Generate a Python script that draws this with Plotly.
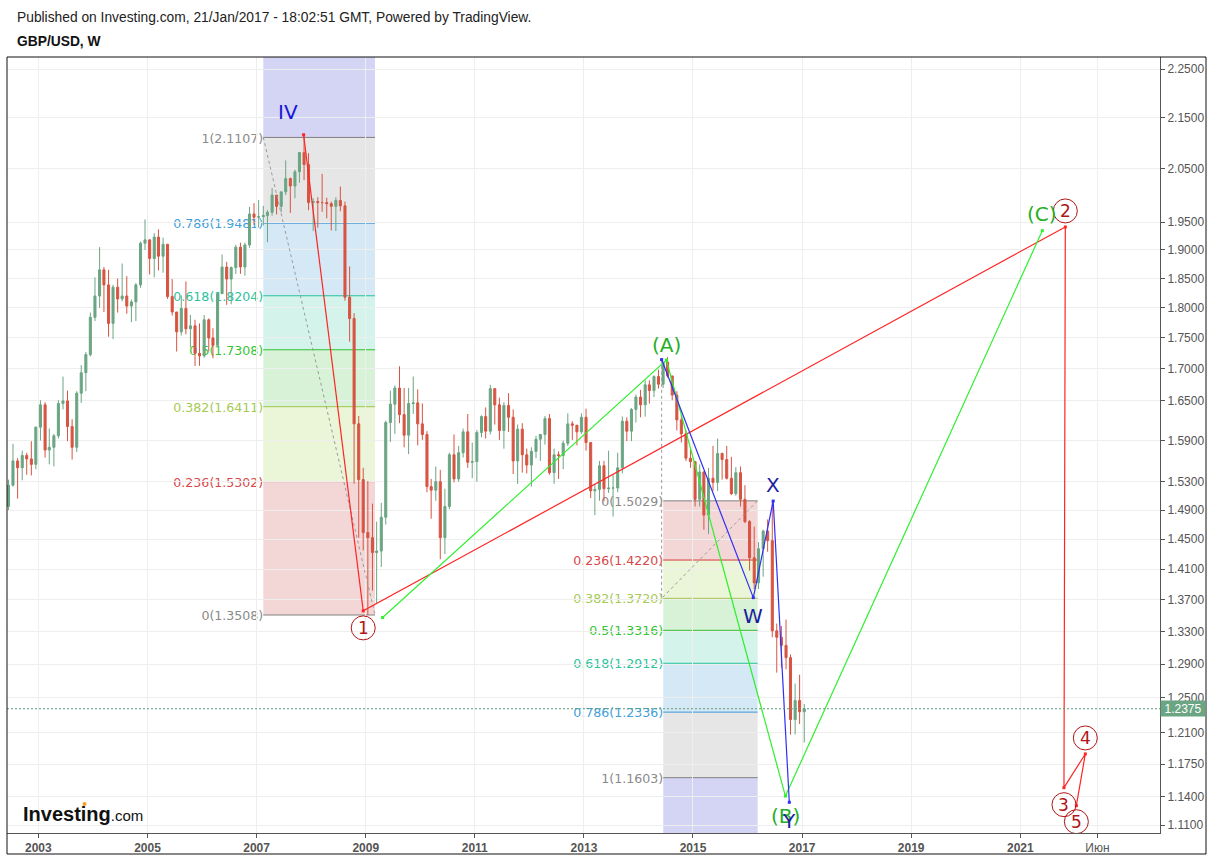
import math
import pandas as pd
import plotly.graph_objects as go

# ---------------- monthly GBP/USD candles ----------------
closes = [
    1.5250, 1.5600, 1.5500, 1.5680, 1.5630, 1.5550, 1.6100,
    1.6440, 1.5760, 1.5800, 1.5970, 1.6460, 1.6500, 1.6110, 1.5800, 1.6620, 1.6940, 1.7230, 1.7840,
    1.8200, 1.8650, 1.8390, 1.7740, 1.8350, 1.8150, 1.8200, 1.8030, 1.8100, 1.8390, 1.9120, 1.9180,
    1.8850, 1.9230, 1.8890, 1.9100, 1.8190, 1.7930, 1.7600, 1.7990, 1.7650, 1.7700, 1.7250, 1.7210,
    1.7800, 1.7500, 1.7380, 1.8240, 1.8700, 1.8490, 1.8690, 1.9050, 1.8700, 1.9090, 1.9650, 1.9590,
    1.9600, 1.9620, 1.9680, 2.0000, 1.9790, 2.0060, 2.0310, 2.0170, 2.0440, 2.0810, 2.0580, 1.9860,
    1.9880, 1.9860, 1.9860, 1.9840, 1.9790, 1.9900, 1.9800, 1.8180, 1.7820, 1.6150, 1.5330, 1.4590,
    1.4520, 1.4320, 1.4340, 1.4800, 1.6170, 1.6450, 1.6700, 1.6290, 1.5980, 1.6460, 1.6470, 1.6150,
    1.5990, 1.5230, 1.5180, 1.5300, 1.4520, 1.4950, 1.5690, 1.5340, 1.5720, 1.6030, 1.5580, 1.5590,
    1.6020, 1.6260, 1.6040, 1.6690, 1.6440, 1.6050, 1.6430, 1.6250, 1.5600, 1.6070, 1.5690, 1.5540,
    1.5740, 1.5920, 1.5990, 1.6230, 1.5430, 1.5690, 1.5680, 1.5860, 1.6150, 1.6130, 1.6030, 1.6250,
    1.5870, 1.5170, 1.5190, 1.5530, 1.5200, 1.5210, 1.5210, 1.5500, 1.6190, 1.6040, 1.6370, 1.6560,
    1.6440, 1.6750, 1.6660, 1.6880, 1.6760, 1.7110, 1.6890, 1.6590, 1.6210, 1.6000, 1.5640, 1.5590,
    1.5050, 1.5440, 1.4830, 1.5350, 1.5290, 1.5710, 1.5620, 1.5350, 1.5130, 1.5430, 1.5050, 1.4740,
    1.4250, 1.3920, 1.4370, 1.4610, 1.4480, 1.3310, 1.3230, 1.3130, 1.2980, 1.2250, 1.2470, 1.2340,
    1.2375,
]
highs = [
    1.5330, 1.5850, 1.5640, 1.5750, 1.5720, 1.5890, 1.6110,
    1.6510, 1.6480, 1.6080, 1.6000, 1.6510, 1.6880, 1.6660, 1.6220, 1.6650, 1.7060, 1.7270, 1.7920,
    1.8520, 1.9050, 1.8700, 1.8650, 1.8390, 1.8500, 1.8760, 1.8540, 1.8140, 1.8420, 1.9150, 1.9550,
    1.9190, 1.9300, 1.9370, 1.9220, 1.9110, 1.8490, 1.7930, 1.8210, 1.8450, 1.7880, 1.7800, 1.7740,
    1.7880, 1.7820, 1.7660, 1.8250, 1.8920, 1.8790, 1.8710, 1.9090, 1.9130, 1.9130, 1.9780, 1.9850,
    1.9910, 1.9800, 1.9720, 2.0130, 2.0000, 2.0060, 2.0660, 2.0330, 2.0480, 2.0820, 2.1160, 2.0800,
    1.9940, 1.9960, 2.0400, 1.9950, 1.9880, 1.9960, 2.0160, 1.9880, 1.8710, 1.7910, 1.6270, 1.5500,
    1.5310, 1.4990, 1.4740, 1.5000, 1.6200, 1.6660, 1.6740, 1.7043, 1.6700, 1.6700, 1.6880, 1.6680,
    1.6460, 1.6040, 1.5340, 1.5520, 1.5470, 1.5200, 1.5720, 1.5990, 1.5820, 1.6080, 1.6300, 1.5870,
    1.6060, 1.6280, 1.6400, 1.6750, 1.6700, 1.6550, 1.6480, 1.6620, 1.6370, 1.6140, 1.6160, 1.5780,
    1.5800, 1.5970, 1.6000, 1.6270, 1.6300, 1.5780, 1.5740, 1.5900, 1.6310, 1.6190, 1.6130, 1.6310,
    1.6380, 1.5880, 1.5270, 1.5600, 1.5600, 1.5750, 1.5400, 1.5720, 1.6260, 1.6250, 1.6390, 1.6600,
    1.6670, 1.6820, 1.6820, 1.6900, 1.6990, 1.7110, 1.7190, 1.6890, 1.6650, 1.6290, 1.6050, 1.5790,
    1.5590, 1.5550, 1.5450, 1.5500, 1.5820, 1.5930, 1.5720, 1.5820, 1.5660, 1.5510, 1.5520, 1.5250,
    1.4760, 1.4670, 1.4460, 1.4630, 1.4770, 1.5020, 1.3400, 1.3370, 1.3450, 1.3020, 1.2670, 1.2775,
    1.2430,
]
lows = [
    1.4900, 1.5230, 1.5060, 1.5320, 1.5400, 1.5390, 1.5480,
    1.5900, 1.5650, 1.5550, 1.5520, 1.5930, 1.6370, 1.5890, 1.5620, 1.5730, 1.6470, 1.6650, 1.7200,
    1.7780, 1.8000, 1.7930, 1.7520, 1.7480, 1.7920, 1.8110, 1.7900, 1.7760, 1.7780, 1.8340, 1.9000,
    1.8570, 1.8520, 1.8640, 1.8600, 1.8150, 1.7870, 1.7280, 1.7540, 1.7560, 1.7350, 1.7046, 1.7050,
    1.7180, 1.7280, 1.7170, 1.7350, 1.8240, 1.8050, 1.8060, 1.8580, 1.8580, 1.8550, 1.9040, 1.9450,
    1.9400, 1.9440, 1.9140, 1.9620, 1.9640, 1.9680, 2.0000, 1.9670, 1.9940, 2.0230, 2.0280, 1.9720,
    1.9340, 1.9400, 1.9690, 1.9570, 1.9350, 1.9340, 1.9700, 1.8120, 1.7440, 1.5270, 1.4520, 1.4350,
    1.3508, 1.3820, 1.3660, 1.4130, 1.4700, 1.5880, 1.6000, 1.6160, 1.5800, 1.5700, 1.6300, 1.5830,
    1.5910, 1.5150, 1.4780, 1.5030, 1.4230, 1.4300, 1.4910, 1.5290, 1.5300, 1.5650, 1.5500, 1.5350,
    1.5300, 1.5950, 1.5930, 1.5990, 1.6140, 1.5910, 1.5780, 1.6030, 1.5410, 1.5270, 1.5430, 1.5420,
    1.5230, 1.5640, 1.5600, 1.5840, 1.5400, 1.5270, 1.5340, 1.5480, 1.5820, 1.5910, 1.5830, 1.6000,
    1.5750, 1.5070, 1.4830, 1.5030, 1.5020, 1.5140, 1.4810, 1.5150, 1.5420, 1.5890, 1.5890, 1.6170,
    1.6250, 1.6260, 1.6460, 1.6560, 1.6690, 1.6700, 1.6860, 1.6510, 1.6050, 1.5870, 1.5600, 1.5500,
    1.4950, 1.4950, 1.4630, 1.4570, 1.5170, 1.5170, 1.5330, 1.5330, 1.5110, 1.5100, 1.4950, 1.4720,
    1.4080, 1.3840, 1.3840, 1.4000, 1.4330, 1.3230, 1.2800, 1.2860, 1.2840, 1.2080, 1.2080, 1.2200,
    1.1990,
]
first_open = 1.4950
months = pd.date_range("2002-06-01", periods=len(closes), freq="MS") + pd.Timedelta(days=14)
opens = [first_open] + closes[:-1]

# ---------------- Fibonacci retracements ----------------
fib_ratio_labels = ["0", "0.236", "0.382", "0.5", "0.618", "0.786", "1"]
fib1_prices = [1.3508, 1.5302, 1.6411, 1.7308, 1.8204, 1.9481, 2.1107]
fib1_x = ["2007-02-15", "2009-03-04"]
fib1_beyond = 3.0
fib2_prices = [1.5029, 1.4220, 1.3720, 1.3316, 1.2912, 1.2336, 1.1603]
fib2_x = ["2014-06-16", "2016-03-09"]
fib2_beyond = 0.9
fib1_trend_dates = ["2007-02-15", "2009-03-04"]
fib1_trend_prices = [2.1107, 1.3508]
fib2_trend_dates = ["2014-06-05", "2014-06-05", "2016-03-09"]
fib2_trend_prices = [1.7146, 1.3720, 1.5029]

fill_colors = {"0.236": "#f3d6d6", "0.382": "#ebf5d7", "0.5": "#d7f2d6", "0.618": "#d4f3ea",
               "0.786": "#d4e9f5", "1": "#e6e6e6", "1.618": "#d4d4f4"}
line_colors = {"0": "#808080", "0.236": "#d63c3c", "0.382": "#9fc54c", "0.5": "#2fbf2f",
               "0.618": "#26c29a", "0.786": "#3d97d6", "1": "#808080"}
text_colors = {"0": "#8a8a8a", "0.236": "#d64848", "0.382": "#a5ca55", "0.5": "#36c436",
               "0.618": "#2cc29c", "0.786": "#43a0dc", "1": "#8a8a8a"}

# ---------------- Elliott wave lines ----------------
red_dates = ["2007-11-12", "2008-12-15", "2021-10-29", "2021-10-20", "2022-03-12", "2022-01-11"]
red_prices = [2.1160, 1.3560, 1.9413, 1.1495, 1.1863, 1.1303]
green_dates = ["2009-04-24", "2014-07-07", "2016-09-11", "2021-05-28"]
green_prices = [1.3476, 1.7143, 1.1405, 1.9346]
blue_dates = ["2014-06-05", "2016-02-09", "2016-06-21", "2016-10-07"]
blue_prices = [1.7150, 1.3729, 1.5026, 1.1339]

current_price = 1.2375

y_ticks = [1.11, 1.14, 1.175, 1.21, 1.25, 1.29, 1.33, 1.37, 1.41, 1.45, 1.49, 1.53, 1.59,
           1.65, 1.70, 1.75, 1.80, 1.85, 1.90, 1.95, 2.05, 2.15, 2.25]
x_tick_dates = ["2003-01-01", "2005-01-01", "2007-01-01", "2009-01-01", "2011-01-01",
                "2013-01-01", "2015-01-01", "2017-01-01", "2019-01-01", "2021-01-01", "2022-06-01"]
x_tick_text = ["2003", "2005", "2007", "2009", "2011", "2013", "2015", "2017", "2019", "2021", "Июн"]

UP, DOWN = "#6ba583", "#d75442"
W, H = 1212, 857
ML, MR, MT, MB = 7, 52, 57, 24
PW, PH = W - ML - MR, H - MT - MB
PX_PER_LN = 1070.0          # vertical pixels per unit of ln(price)
ln_ref = math.log(1.3508)   # price sitting at pixel row 615

fig = go.Figure()
shapes = []


def add_fib(xr, prices, beyond):
    allp = prices + [beyond]
    keys = fib_ratio_labels + ["1.618"]
    for i in range(1, len(allp)):
        shapes.append(dict(type="rect", xref="x", yref="y", x0=xr[0], x1=xr[1],
                           y0=allp[i - 1], y1=allp[i], layer="below",
                           fillcolor=fill_colors[keys[i]], line=dict(width=0)))
    for key, p in zip(fib_ratio_labels, prices):
        shapes.append(dict(type="line", xref="x", yref="y", x0=xr[0], x1=xr[1], y0=p, y1=p,
                           layer="below", line=dict(color=line_colors[key], width=1),
                           label=dict(text=f"{key}({p:.4f})", textposition="start",
                                      xanchor="right", yanchor="middle", padding=4,
                                      font=dict(color=text_colors[key], size=12.6,
                                                family="DejaVu Sans"))))


add_fib(fib1_x, fib1_prices, fib1_beyond)
add_fib(fib2_x, fib2_prices, fib2_beyond)

fig.add_trace(go.Candlestick(
    x=months, open=opens, high=highs, low=lows, close=closes,
    increasing=dict(line=dict(color=UP, width=1), fillcolor=UP),
    decreasing=dict(line=dict(color=DOWN, width=1), fillcolor=DOWN),
    whiskerwidth=0, showlegend=False, hoverinfo="skip"))

for d, p in ((fib1_trend_dates, fib1_trend_prices), (fib2_trend_dates, fib2_trend_prices)):
    fig.add_trace(go.Scatter(x=d, y=p, mode="lines", showlegend=False, hoverinfo="skip",
                             line=dict(color="#9a9a9a", width=1, dash="3px,3px")))

for d, p, c in ((red_dates, red_prices, "#ff2424"), (green_dates, green_prices, "#2ef02e"),
                (blue_dates, blue_prices, "#2f2ff5")):
    fig.add_trace(go.Scatter(x=d, y=p, mode="lines+markers", showlegend=False, hoverinfo="skip",
                             line=dict(color=c, width=1.2),
                             marker=dict(symbol="square", size=3, color=c)))

# current price line
shapes.append(dict(type="line", xref="paper", x0=0, x1=1, yref="y", y0=current_price,
                   y1=current_price, line=dict(color="#5e9a7a", width=1, dash="2px,2px")))

annotations = []
lg = math.log10


def wave_label(text, d, p, color, xs=0, ys=0, size=20):
    annotations.append(dict(x=d, y=lg(p), xref="x", yref="y", text=text, showarrow=False,
                            xshift=xs, yshift=ys, xanchor="center", yanchor="middle",
                            font=dict(family="DejaVu Sans", size=size, color=color)))


wave_label("IV", red_dates[0], red_prices[0], "#1717d6", xs=-16, ys=23)
wave_label("(A)", green_dates[1], green_prices[1], "#26ae26", ys=15)
wave_label("(B)", green_dates[2], green_prices[2], "#26ae26", ys=-20)
wave_label("(C)", green_dates[3], green_prices[3], "#26ae26", ys=17)
wave_label("W", blue_dates[1], blue_prices[1], "#1c1c9e", ys=-18)
wave_label("X", blue_dates[2], blue_prices[2], "#1c1c9e", ys=16)
wave_label("Y", blue_dates[3], blue_prices[3], "#1c1c9e", ys=-19)

circle_offsets = [(1, -17), (2, 16), (3, -17), (4, 16), (5, -16)]
CR = "#b01515"
RAD = 12
for num, off in circle_offsets:
    d, p = red_dates[num], red_prices[num]
    shapes.append(dict(type="circle", xref="x", yref="y", xsizemode="pixel",
                       xanchor=d, x0=-RAD, x1=RAD,
                       y0=p * math.exp((off - RAD) / PX_PER_LN),
                       y1=p * math.exp((off + RAD) / PX_PER_LN),
                       line=dict(color=CR, width=1), fillcolor="rgba(255,255,255,0)"))
    wave_label(str(num), d, p, CR, ys=off, size=17)

# price tag on axis
annotations.append(dict(x=1, y=lg(current_price), xref="paper", yref="y", text="1.2375",
                        showarrow=False, xanchor="left", yanchor="middle", bgcolor=UP,
                        width=42, height=13, borderpad=1, align="center",
                        font=dict(family="Liberation Sans", size=12, color="white")))

# header
annotations.append(dict(x=0, y=1, xref="paper", yref="paper", xshift=8, yshift=40,
                        xanchor="left", yanchor="middle", showarrow=False,
                        text="Published on Investing.com, 21/Jan/2017 - 18:02:51 GMT, Powered by TradingView.",
                        font=dict(family="Liberation Sans", size=13.8, color="#222222")))
annotations.append(dict(x=0, y=1, xref="paper", yref="paper", xshift=8, yshift=16,
                        xanchor="left", yanchor="middle", showarrow=False,
                        text="<b>GBP/USD, W</b>",
                        font=dict(family="Liberation Sans", size=13.8, color="#111111")))
# logo
annotations.append(dict(x=0, y=0, xref="paper", yref="paper", xshift=14, yshift=6,
                        xanchor="left", yanchor="bottom", showarrow=False,
                        text="<b>Investing</b><span style='font-size:15px'>.com</span>",
                        font=dict(family="Liberation Sans", size=20, color="#111111")))
shapes.append(dict(type="circle", xref="paper", yref="paper", xsizemode="pixel",
                   ysizemode="pixel", xanchor=(84.5 - ML) / PW, yanchor=(H - MB - 806) / PH,
                   x0=-2, x1=2, y0=0, y1=4, line=dict(width=0), fillcolor="#f4a11d"))

# outer frame
shapes.append(dict(type="rect", xref="paper", yref="paper", x0=0, x1=(1206 - ML) / PW,
                   y0=-(854 - (H - MB)) / PH, y1=1, line=dict(color="#111111", width=1),
                   fillcolor="rgba(0,0,0,0)"))

x_left = pd.Timestamp("2003-01-01") - pd.Timedelta(days=210)
x_right = pd.Timestamp("2023-01-01") + pd.Timedelta(days=205)
y_top = math.exp(ln_ref + (615 - MT) / PX_PER_LN)
y_bot = math.exp(ln_ref - ((H - MB) - 615) / PX_PER_LN)

fig.update_layout(
    width=W, height=H, margin=dict(l=ML, r=MR, t=MT, b=MB, pad=0, autoexpand=False),
    paper_bgcolor="white", plot_bgcolor="white",
    shapes=shapes, annotations=annotations, showlegend=False,
    xaxis=dict(type="date", range=[x_left, x_right], rangeslider=dict(visible=False),
               tickvals=x_tick_dates,
               ticktext=[f"<b>{t}</b>" if t.isdigit() else t for t in x_tick_text],
               showgrid=True, gridcolor="#eeeeee", gridwidth=1, zeroline=False,
               showline=True, linecolor="#555555", linewidth=1, automargin=False,
               ticks="outside", ticklen=4, tickcolor="#555555",
               tickfont=dict(family="Liberation Sans", size=12, color="#555555"),
               fixedrange=True),
    yaxis=dict(type="log", range=[lg(y_bot), lg(y_top)], side="right",
               tickvals=y_ticks, ticktext=[f"{v:.4f}" for v in y_ticks],
               showgrid=True, gridcolor="#eeeeee", gridwidth=1, zeroline=False,
               showline=True, linecolor="#555555", linewidth=1, automargin=False,
               ticks="outside", ticklen=4, tickcolor="#555555",
               tickfont=dict(family="Liberation Sans", size=12, color="#555555"),
               fixedrange=True),
)

fig.write_html("out.html", config={"displayModeBar": False},
               post_script="document.body.style.margin='0px';document.body.style.overflow='hidden';")
